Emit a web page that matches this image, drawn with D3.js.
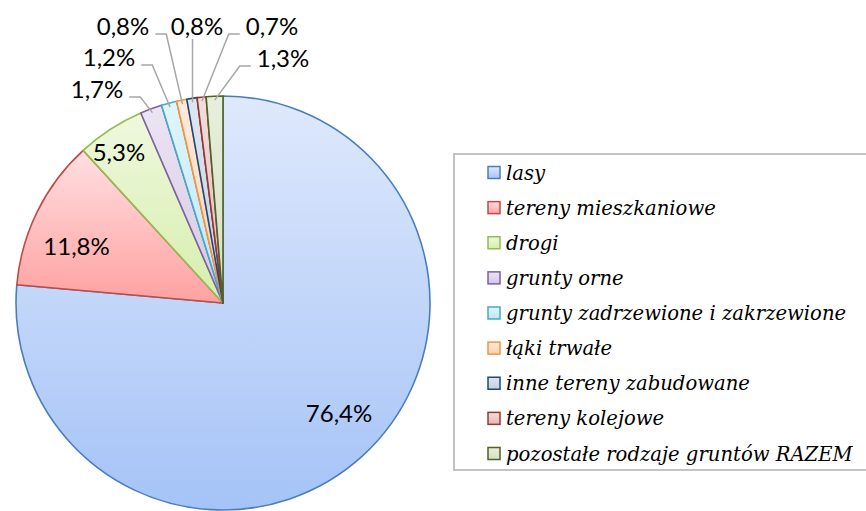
<!DOCTYPE html>
<meta charset="utf-8">
<head>
    <script type="text/javascript" src="https://cdn.jsdelivr.net/npm/d3@7/dist/d3.min.js"></script>
    <style>
        body { margin: 0; background: #fff; }
        .pct { font-family: Lato, "Open Sans", sans-serif; font-size: 24px; fill: #000; }
        .leg { font-family: "DejaVu Serif", serif; font-style: italic; font-size: 19.6px; fill: #000; }
    </style>
</head>
<body>
<div id="chart"></div>
<script>

    // data
    let categories = [
        'lasy',
        'tereny mieszkaniowe',
        'drogi',
        'grunty orne',
        'grunty zadrzewione i zakrzewione',
        'łąki trwałe',
        'inne tereny zabudowane',
        'tereny kolejowe',
        'pozostałe rodzaje gruntów RAZEM'
    ]
    let values = [76.4, 11.8, 5.3, 1.7, 1.2, 0.8, 0.8, 0.7, 1.3]
    let valueLabels = ['76,4%', '11,8%', '5,3%', '1,7%', '1,2%', '0,8%', '0,8%', '0,7%', '1,3%']

    // colours: [gradient top, gradient bottom, outline]
    let fillTop = ['#dfe9fc', '#ffdfe1', '#eff8de', '#ece5f4', '#e0f5fb', '#fdebdc', '#e0e6ef', '#f3dedd', '#e8eedd']
    let fillBottom = ['#a5c3f7', '#ffa1a1', '#d6eeac', '#d3c7e5', '#bce7f4', '#fbd2b0', '#c5cfdf', '#e4b7b6', '#d5e2bc']
    let strokes = ['#4a7ebb', '#be4b48', '#98b954', '#7d60a0', '#46aac5', '#f69240', '#1f497d', '#953735', '#4f6228']

    let width = 866, height = 511
    let cx = 223, cy = 303, radius = 207

    let svg = d3.select('#chart').append('svg')
        .attr('width', width)
        .attr('height', height)

    let defs = svg.append('defs')
    categories.forEach(function (c, i) {
        let g = defs.append('linearGradient')
            .attr('id', 'grad' + i)
            .attr('x1', 0).attr('y1', 0).attr('x2', 0).attr('y2', 1)
        g.append('stop').attr('offset', '0%').attr('stop-color', fillTop[i])
        g.append('stop').attr('offset', '100%').attr('stop-color', fillBottom[i])
    })

    let pie = d3.pie().sort(null).value(d => d)
    let arcs = pie(values)
    let arc = d3.arc().innerRadius(0).outerRadius(radius)

    let pieG = svg.append('g').attr('transform', 'translate(' + cx + ',' + cy + ')')

    pieG.selectAll('path')
        .data(arcs)
        .enter()
        .append('path')
        .attr('d', arc)
        .attr('fill', (d, i) => 'url(#grad' + i + ')')
        .attr('stroke', (d, i) => strokes[i])
        .attr('stroke-width', 1.6)
        .attr('stroke-linejoin', 'round')

    // inside labels (first three slices) - radius and angle nudge per label
    let inside = [
        {i: 0, r: 160, da: -0.07},
        {i: 1, r: 157, da: -0.09},
        {i: 2, r: 183, da: -0.03}
    ]
    inside.forEach(function (o) {
        let a = (arcs[o.i].startAngle + arcs[o.i].endAngle) / 2 + o.da
        pieG.append('text')
            .attr('class', 'pct')
            .attr('x', o.r * Math.sin(a))
            .attr('y', -o.r * Math.cos(a))
            .attr('text-anchor', 'middle')
            .attr('dy', '0.36em')
            .text(valueLabels[o.i])
    })

    // outside labels with leader lines, label centre in page coords
    let outside = [
        {i: 3, x: 97, y: 89, side: 'left'},
        {i: 4, x: 109, y: 57, side: 'left'},
        {i: 5, x: 123, y: 26, side: 'left'},
        {i: 6, x: 197, y: 26, side: 'down'},
        {i: 7, x: 272, y: 26, side: 'right'},
        {i: 8, x: 283, y: 58, side: 'right'}
    ]
    outside.forEach(function (o) {
        let t = svg.append('text')
            .attr('class', 'pct')
            .attr('x', o.x)
            .attr('y', o.y)
            .attr('text-anchor', 'middle')
            .attr('dy', '0.36em')
            .text(valueLabels[o.i])
        let w = t.node().getComputedTextLength()
        let a = (arcs[o.i].startAngle + arcs[o.i].endAngle) / 2
        let ex = cx + (radius - 4) * Math.sin(a)
        let ey = cy - (radius - 4) * Math.cos(a)
        let pts
        if (o.side === 'left') {
            let sx = o.x + w / 2 + 6, sy = o.y + 8
            pts = [[sx, sy], [sx + 11, sy], [ex, ey]]
        } else if (o.side === 'right') {
            let sx = o.x - w / 2 - 6, sy = o.y + 8
            pts = [[sx, sy], [sx - 11, sy], [ex, ey]]
        } else {
            pts = [[ex, o.y + 13], [ex, ey]]
        }
        svg.append('path')
            .attr('d', d3.line()(pts))
            .attr('fill', 'none')
            .attr('stroke', '#a6a6a6')
            .attr('stroke-width', 1.5)
    })

    // legend
    let legX = 454, legY = 154, legH = 316
    svg.append('rect')
        .attr('x', legX).attr('y', legY)
        .attr('width', width - legX + 10).attr('height', legH)
        .attr('fill', '#fff')
        .attr('stroke', '#c3c3c3')
        .attr('stroke-width', 2)

    let legScale = d3.scalePoint()
        .domain(categories)
        .range([173, 454])

    let rows = svg.append('g').selectAll('g')
        .data(categories)
        .enter()
        .append('g')
        .attr('transform', d => 'translate(0,' + legScale(d) + ')')

    rows.append('rect')
        .attr('x', 488).attr('y', -6.5)
        .attr('width', 12).attr('height', 12)
        .attr('fill', (d, i) => 'url(#grad' + i + ')')
        .attr('stroke', (d, i) => strokes[i])
        .attr('stroke-width', 1.5)

    rows.append('text')
        .attr('class', 'leg')
        .attr('x', 506)
        .attr('y', 6.5)
        .text(d => d)

</script>
</body>
</html>
